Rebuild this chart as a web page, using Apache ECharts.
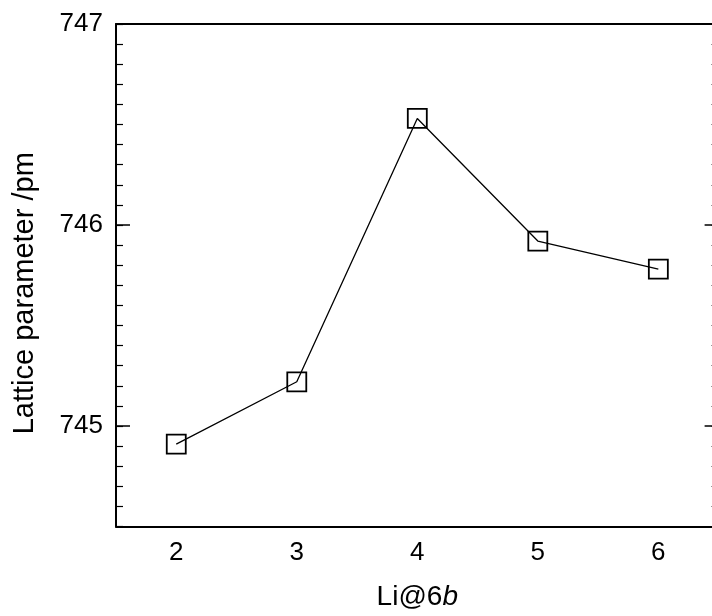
<!DOCTYPE html>
<html>
<head>
<meta charset="utf-8">
<script src="https://cdn.jsdelivr.net/npm/echarts@6/dist/echarts.min.js"></script>
<style>
  html, body { margin: 0; padding: 0; background: #fff; }
  #chart { width: 712px; height: 616px; }
</style>
</head>
<body>
<div id="chart"></div>
<script>
// Li@6b site occupancy vs lattice parameter
const categories = ['2', '3', '4', '5', '6']
const latticeValues = [744.91, 745.22, 746.53, 745.92, 745.78]
const yMajorTicks = [745, 746, 747]
const yMin = 744.5
const yMax = 747

const font = 'Liberation Sans, Arial, sans-serif'
const black = '#000'

const chart = echarts.init(document.getElementById('chart'))

const majorY = (position, showLabel) => ({
  type: 'value',
  position: position,
  min: yMin,
  max: yMax,
  interval: 0.5,
  axisLine: { show: position === 'left', onZero: false, lineStyle: { color: black, width: 2 } },
  axisTick: { show: true, inside: true, length: 14, customValues: yMajorTicks, lineStyle: { color: black, width: 1.5 } },
  axisLabel: {
    show: showLabel,
    customValues: yMajorTicks,
    color: black,
    fontFamily: font,
    fontSize: 26,
    margin: 13
  },
  splitLine: { show: false }
})

const minorY = (position) => ({
  type: 'value',
  position: position,
  min: yMin,
  max: yMax,
  interval: 0.1,
  axisLine: { show: false, onZero: false },
  axisTick: { show: true, inside: true, length: 7, lineStyle: { color: black, width: 1.2 } },
  axisLabel: { show: false },
  splitLine: { show: false }
})

const option = {
  animation: false,
  backgroundColor: '#fff',
  grid: {
    left: 116,
    top: 24,
    right: -6.6,
    bottom: 89.5,
    containLabel: false,
    outerBoundsMode: 'none'
  },
  xAxis: [
    {
      type: 'category',
      position: 'bottom',
      data: categories,
      boundaryGap: true,
      name: '{n|Li@6}{i|b}',
      nameLocation: 'middle',
      nameGap: 57,
      nameTextStyle: {
        rich: {
          n: { fontFamily: font, fontSize: 28, color: black },
          i: { fontFamily: font, fontSize: 28, color: black, fontStyle: 'italic' }
        }
      },
      axisLine: { onZero: false, lineStyle: { color: black, width: 2 } },
      axisTick: { alignWithLabel: true, inside: true, length: 13, lineStyle: { color: black, width: 1.5 } },
      axisLabel: { color: black, fontFamily: font, fontSize: 26, margin: 13 },
      splitLine: { show: false }
    },
    {
      type: 'category',
      position: 'top',
      data: categories,
      boundaryGap: true,
      axisLine: { onZero: false, lineStyle: { color: black, width: 2 } },
      axisTick: { alignWithLabel: true, inside: true, length: 13, lineStyle: { color: black, width: 1.5 } },
      axisLabel: { show: false },
      splitLine: { show: false }
    }
  ],
  yAxis: [
    Object.assign(majorY('left', true), {
      name: 'Lattice parameter /pm',
      nameLocation: 'middle',
      nameGap: 77,
      // title sits a little below the plot centre in the original
      nameTextStyle: { fontFamily: font, fontSize: 29, color: black, padding: [0, 36, 0, 0] }
    }),
    minorY('left'),
    majorY('right', false),
    minorY('right')
  ],
  series: [
    {
      type: 'line',
      xAxisIndex: 0,
      yAxisIndex: 0,
      data: latticeValues,
      symbol: 'rect',
      symbolSize: 19,
      itemStyle: { color: 'rgba(0,0,0,0)', borderColor: black, borderWidth: 1.8 },
      lineStyle: { color: black, width: 1.3 },
      emphasis: { disabled: true }
    }
  ]
}

chart.setOption(option)
</script>
</body>
</html>
